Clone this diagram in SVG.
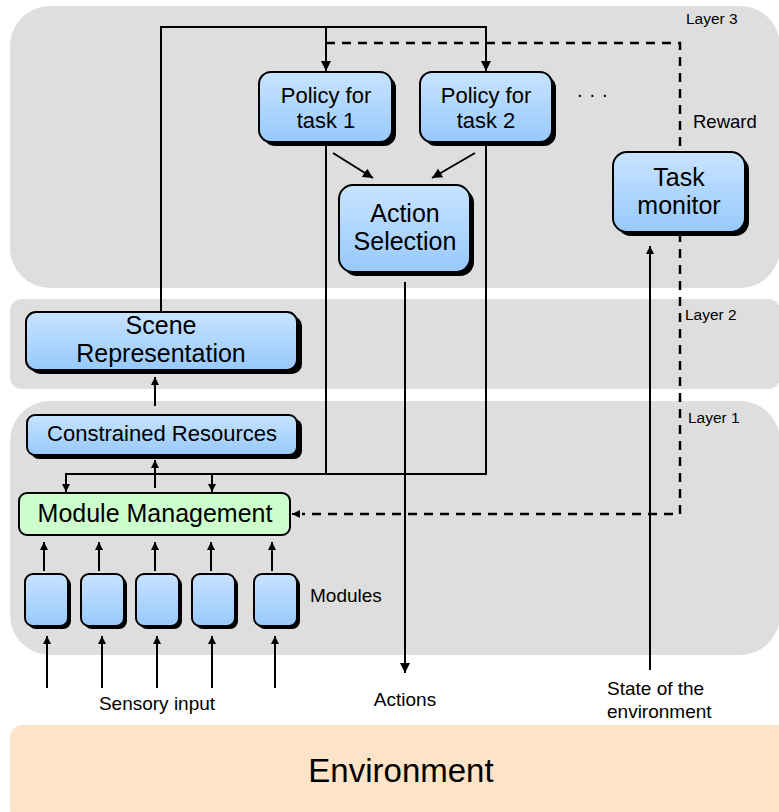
<svg xmlns="http://www.w3.org/2000/svg" width="779" height="812" viewBox="0 0 779 812">
  <defs>
    <linearGradient id="blueFill" x1="0" y1="0" x2="0" y2="1">
      <stop offset="0" stop-color="#C8E3FF"/>
      <stop offset="1" stop-color="#97C9FB"/>
    </linearGradient>
    <marker id="arrow" viewBox="0 0 10 10" refX="10" refY="5" markerWidth="10" markerHeight="10" markerUnits="userSpaceOnUse" orient="auto">
      <path d="M0,0 L10,5 L0,10 Z" fill="#000"/>
    </marker>
    <marker id="arrowSmall" viewBox="0 0 10 10" refX="10" refY="5" markerWidth="8" markerHeight="8" markerUnits="userSpaceOnUse" orient="auto">
      <path d="M0,0 L10,5 L0,10 Z" fill="#000"/>
    </marker>
  </defs>
  <style>
    .panel { fill: #DEDEDE; }
    .box { fill: url(#blueFill); stroke: #000; stroke-width: 2; }
    .shadow { fill: #000; }
    .green { fill: #CCFFCC; stroke: #000; stroke-width: 2; }
    .label { font-family: "Liberation Sans", Arial, sans-serif; fill: #000; }
    .line { fill: none; stroke: #000; stroke-width: 2; }
    .dash { fill: none; stroke: #000; stroke-width: 2.5; stroke-dasharray: 9 7; }
  </style>

  <!-- layer panels -->
  <g id="layer3">
    <rect class="panel" x="10" y="6" width="770" height="282" rx="40"/>
    <text class="label" x="686" y="24" font-size="15.5">Layer 3</text>
  </g>
  <g id="layer2">
    <rect class="panel" x="10" y="299" width="770" height="90" rx="12"/>
    <text class="label" x="685" y="320" font-size="15.5">Layer 2</text>
  </g>
  <g id="layer1">
    <rect class="panel" x="10" y="401" width="770" height="254" rx="40"/>
    <text class="label" x="688" y="423" font-size="15.5">Layer 1</text>
  </g>

  <!-- environment -->
  <g id="environment">
    <rect x="10" y="725" width="780" height="95" rx="12" fill="#FDE3C8"/>
    <text class="label" x="401" y="782" font-size="33" text-anchor="middle">Environment</text>
  </g>

  <!-- connectors -->
  <g id="connectors">
    <!-- scene representation feeding both policies -->
    <polyline class="line" points="161,312 161,27 486,27 486,71" marker-end="url(#arrow)"/>
    <line class="line" x1="326" y1="27" x2="326" y2="71" marker-end="url(#arrow)"/>
    <!-- reward signal -->
    <polyline class="dash" points="326,43 680,43 680,152"/>
    <polyline class="dash" points="680,233 680,514 302,514"/>
    <line class="line" x1="300" y1="514" x2="292" y2="514" marker-end="url(#arrowSmall)"/>
    <!-- policies to action selection -->
    <line class="line" x1="333" y1="153" x2="373" y2="178" marker-end="url(#arrow)"/>
    <line class="line" x1="475" y1="153" x2="432" y2="178" marker-end="url(#arrow)"/>
    <!-- policies down to module management -->
    <polyline class="line" points="326,142 326,474 66,474 66,492" marker-end="url(#arrowSmall)"/>
    <polyline class="line" points="486,142 486,474 326,474"/>
    <line class="line" x1="212" y1="474" x2="212" y2="492" marker-end="url(#arrowSmall)"/>
    <!-- module management to constrained resources -->
    <line class="line" x1="155" y1="488" x2="155" y2="460" marker-end="url(#arrowSmall)"/>
    <!-- constrained resources to scene representation -->
    <line class="line" x1="155" y1="406" x2="155" y2="377" marker-end="url(#arrowSmall)"/>
    <!-- action selection to actions -->
    <line class="line" x1="405" y1="282" x2="405" y2="673" marker-end="url(#arrow)"/>
    <!-- state of the environment to task monitor -->
    <line class="line" x1="650" y1="670" x2="650" y2="246" marker-end="url(#arrowSmall)"/>
    <!-- modules to module management -->
    <line class="line" x1="44" y1="571" x2="44" y2="542" marker-end="url(#arrowSmall)"/>
    <line class="line" x1="99" y1="571" x2="99" y2="542" marker-end="url(#arrowSmall)"/>
    <line class="line" x1="155" y1="571" x2="155" y2="542" marker-end="url(#arrowSmall)"/>
    <line class="line" x1="211" y1="571" x2="211" y2="542" marker-end="url(#arrowSmall)"/>
    <line class="line" x1="272" y1="571" x2="272" y2="542" marker-end="url(#arrowSmall)"/>
    <!-- sensory input to modules -->
    <line class="line" x1="47" y1="688" x2="47" y2="636" marker-end="url(#arrowSmall)"/>
    <line class="line" x1="102" y1="688" x2="102" y2="636" marker-end="url(#arrowSmall)"/>
    <line class="line" x1="157" y1="688" x2="157" y2="636" marker-end="url(#arrowSmall)"/>
    <line class="line" x1="212" y1="688" x2="212" y2="636" marker-end="url(#arrowSmall)"/>
    <line class="line" x1="275" y1="688" x2="275" y2="636" marker-end="url(#arrowSmall)"/>
  </g>

  <!-- layer 3 nodes -->
  <g id="policy1">
    <rect class="shadow" x="263" y="76" width="133" height="70" rx="12"/>
    <rect class="box" x="259" y="72" width="133" height="70" rx="12"/>
    <text class="label" x="326" y="103" font-size="22" text-anchor="middle">Policy for</text>
    <text class="label" x="326" y="128" font-size="22" text-anchor="middle">task 1</text>
  </g>
  <g id="policy2">
    <rect class="shadow" x="424" y="76" width="132" height="70" rx="12"/>
    <rect class="box" x="420" y="72" width="132" height="70" rx="12"/>
    <text class="label" x="486" y="103" font-size="22" text-anchor="middle">Policy for</text>
    <text class="label" x="486" y="128" font-size="22" text-anchor="middle">task 2</text>
  </g>
  <g id="more-policies">
    <text class="label" x="577" y="97" font-size="20" letter-spacing="7">...</text>
  </g>
  <g id="action-selection">
    <rect class="shadow" x="343" y="189" width="131" height="87" rx="14"/>
    <rect class="box" x="339" y="185" width="131" height="87" rx="14"/>
    <text class="label" x="405" y="222" font-size="25" text-anchor="middle">Action</text>
    <text class="label" x="405" y="250" font-size="25" text-anchor="middle">Selection</text>
  </g>
  <g id="task-monitor">
    <rect class="shadow" x="617" y="156" width="132" height="80" rx="14"/>
    <rect class="box" x="613" y="152" width="132" height="80" rx="14"/>
    <text class="label" x="679" y="186" font-size="25" text-anchor="middle">Task</text>
    <text class="label" x="679" y="214" font-size="25" text-anchor="middle">monitor</text>
  </g>
  <text class="label" x="693" y="128" font-size="18.5">Reward</text>

  <!-- layer 2 node -->
  <g id="scene-representation">
    <rect class="shadow" x="30" y="316" width="272" height="58" rx="10"/>
    <rect class="box" x="26" y="312" width="271" height="58" rx="10"/>
    <text class="label" x="161" y="334" font-size="25" text-anchor="middle">Scene</text>
    <text class="label" x="161" y="362" font-size="25" text-anchor="middle">Representation</text>
  </g>

  <!-- layer 1 nodes -->
  <g id="constrained-resources">
    <rect class="shadow" x="31" y="419" width="271" height="40" rx="8"/>
    <rect class="box" x="27" y="415" width="270" height="40" rx="8"/>
    <text class="label" x="162" y="441" font-size="22" text-anchor="middle">Constrained Resources</text>
  </g>
  <g id="module-management">
    <rect class="green" x="19" y="493" width="271" height="42" rx="8"/>
    <text class="label" x="155" y="522" font-size="25" text-anchor="middle">Module Management</text>
  </g>
  <g id="modules">
    <rect class="shadow" x="28" y="577" width="43" height="52" rx="8"/>
    <rect class="box" x="25" y="574" width="43" height="52" rx="8"/>
    <rect class="shadow" x="84" y="577" width="43" height="52" rx="8"/>
    <rect class="box" x="81" y="574" width="43" height="52" rx="8"/>
    <rect class="shadow" x="139" y="577" width="43" height="52" rx="8"/>
    <rect class="box" x="136" y="574" width="43" height="52" rx="8"/>
    <rect class="shadow" x="195" y="577" width="43" height="52" rx="8"/>
    <rect class="box" x="192" y="574" width="43" height="52" rx="8"/>
    <rect class="shadow" x="257" y="577" width="43" height="52" rx="8"/>
    <rect class="box" x="254" y="574" width="43" height="52" rx="8"/>
    <text class="label" x="310" y="602" font-size="19">Modules</text>
  </g>

  <!-- outside labels -->
  <text class="label" x="157" y="710" font-size="19" text-anchor="middle">Sensory input</text>
  <text class="label" x="405" y="706" font-size="19" text-anchor="middle">Actions</text>
  <text class="label" x="607" y="695" font-size="19">State of the</text>
  <text class="label" x="607" y="718" font-size="19">environment</text>
</svg>
